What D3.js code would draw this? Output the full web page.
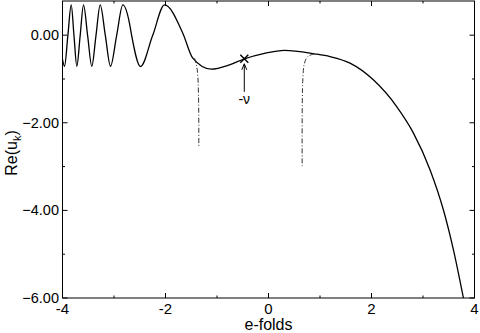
<!DOCTYPE html>
<html>
<meta charset="utf-8">
<head>
<style>
body { margin: 0; background: #fff; }
text { font-family: "Liberation Sans", Arial, sans-serif; }
</style>
<script src="https://d3js.org/d3.v7.min.js"></script>
</head>
<body>
<svg width="480" height="333"></svg>
<script>
// solid curve: Re(u_k) against e-folds
var mainX = [-4.0, -3.961, -3.896, -3.831, -3.777, -3.722, -3.657, -3.592, -3.512, -3.431, -3.350,
             -3.268, -3.168, -3.068, -2.949, -2.829, -2.699, -2.657, -2.485, -2.25, -2.019,
             -1.664, -1.470, -1.113, -0.757, -0.466, -0.078, 0.311, 0.893, 1.194, 1.583,
             2.035, 2.489, 2.812, 3.136, 3.394, 3.589, 3.783, 3.81];
var mainY = [-0.55, -0.71, -0.01, 0.69, -0.01, -0.71, -0.01, 0.69, -0.01, -0.71, -0.01,
             0.69, -0.01, -0.71, -0.01, 0.69, 0.27, -0.01, -0.715, -0.01, 0.69,
             0.046, -0.524, -0.775, -0.677, -0.54, -0.415, -0.346, -0.426, -0.49, -0.64,
             -1.02, -1.63, -2.23, -3.07, -3.98, -4.89, -5.99, -6.15];

// dash-dot branches
var branch1X = [-1.437, -1.384, -1.359, -1.353];
var branch1Y = [-0.524, -0.79, -1.40, -2.54];
var branch2X = [0.893, 0.763, 0.699, 0.666, 0.654];
var branch2Y = [-0.426, -0.487, -0.638, -1.02, -2.99];

// marked point -nu
var nuPoint = [-0.47, -0.54];

var xTicks = [-4, -2, 0, 2, 4];
var xMinor = [-3, -1, 1, 3];
var yTicks = [0, -2, -4, -6];
var yMinor = [-1, -3, -5];

var svg = d3.select("svg");

var x = d3.scaleLinear().domain([-4, 4]).range([62.5, 474.5]);
var y = d3.scaleLinear().domain([-6, 0.78]).range([298, 1]);

svg.append("clipPath").attr("id", "plot")
  .append("rect")
    .attr("x", x(-4)).attr("y", y(0.78))
    .attr("width", x(4) - x(-4)).attr("height", y(-6) - y(0.78));

var line = d3.line()
    .x(function(d) { return x(d[0]); })
    .y(function(d) { return y(d[1]); })
    .curve(d3.curveMonotoneX);

var lineBranch = d3.line()
    .x(function(d) { return x(d[0]); })
    .y(function(d) { return y(d[1]); })
    .curve(d3.curveCatmullRom);

var g = svg.append("g").attr("clip-path", "url(#plot)");

g.append("path")
    .attr("d", line(d3.zip(mainX, mainY)))
    .attr("fill", "none")
    .attr("stroke", "#000")
    .attr("stroke-width", 1.3);

[[branch1X, branch1Y], [branch2X, branch2Y]].forEach(function(b) {
  g.append("path")
      .attr("d", lineBranch(d3.zip(b[0], b[1])))
      .attr("fill", "none")
      .attr("stroke", "#333")
      .attr("stroke-width", 1)
      .attr("stroke-dasharray", "5,2,1,2");
});

// frame + ticks on all sides
svg.append("rect")
    .attr("x", x(-4)).attr("y", y(0.78))
    .attr("width", x(4) - x(-4)).attr("height", y(-6) - y(0.78))
    .attr("fill", "none").attr("stroke", "#000");

function tickX(vals, len) {
  vals.forEach(function(v) {
    svg.append("line").attr("x1", x(v)).attr("x2", x(v))
        .attr("y1", y(-6)).attr("y2", y(-6) - len).attr("stroke", "#000");
    svg.append("line").attr("x1", x(v)).attr("x2", x(v))
        .attr("y1", y(0.78)).attr("y2", y(0.78) + len).attr("stroke", "#000");
  });
}
function tickY(vals, len) {
  vals.forEach(function(v) {
    svg.append("line").attr("y1", y(v)).attr("y2", y(v))
        .attr("x1", x(-4)).attr("x2", x(-4) + len).attr("stroke", "#000");
    svg.append("line").attr("y1", y(v)).attr("y2", y(v))
        .attr("x1", x(4)).attr("x2", x(4) - len).attr("stroke", "#000");
  });
}
tickX(xTicks, 5); tickX(xMinor, 2.5);
tickY(yTicks, 5); tickY(yMinor, 2.5);

svg.selectAll(".xl").data(xTicks).enter().append("text")
    .attr("x", function(d) { return x(d); })
    .attr("y", 314)
    .attr("text-anchor", "middle")
    .attr("font-size", 15)
    .text(function(d) { return d; });

svg.selectAll(".yl").data(yTicks).enter().append("text")
    .attr("x", 59)
    .attr("y", function(d) { return y(d) + 5; })
    .attr("text-anchor", "end")
    .attr("font-size", 14.5)
    .text(function(d) { return d3.format(".2f")(d); });

svg.append("text")
    .attr("x", x(0)).attr("y", 330)
    .attr("text-anchor", "middle")
    .attr("font-size", 16)
    .text("e-folds");

var yt = svg.append("text")
    .attr("transform", "translate(17,153) rotate(-90)")
    .attr("text-anchor", "middle")
    .attr("font-size", 16);
yt.append("tspan").text("Re(u");
yt.append("tspan").attr("font-size", 11).attr("dy", 4).text("k");
yt.append("tspan").attr("dy", -4).text(")");

// cross marker, arrow and label
var px = x(nuPoint[0]), py = y(nuPoint[1]);
svg.append("path")
    .attr("d", "M" + (px - 4) + "," + (py - 4) + "L" + (px + 4) + "," + (py + 4) +
               "M" + (px - 4) + "," + (py + 4) + "L" + (px + 4) + "," + (py - 4))
    .attr("stroke", "#000").attr("stroke-width", 1.4);
svg.append("line")
    .attr("x1", px).attr("x2", px).attr("y1", py + 33).attr("y2", py + 5)
    .attr("stroke", "#000");
svg.append("path")
    .attr("d", "M" + (px - 2.5) + "," + (py + 11) + "L" + px + "," + (py + 5) + "L" + (px + 2.5) + "," + (py + 11))
    .attr("fill", "none").attr("stroke", "#000");
svg.append("text")
    .attr("x", px).attr("y", py + 45)
    .attr("text-anchor", "middle")
    .attr("font-family", "'Liberation Serif', serif")
    .attr("font-size", 14)
    .text("-\u03bd");
</script>
</body>
</html>
